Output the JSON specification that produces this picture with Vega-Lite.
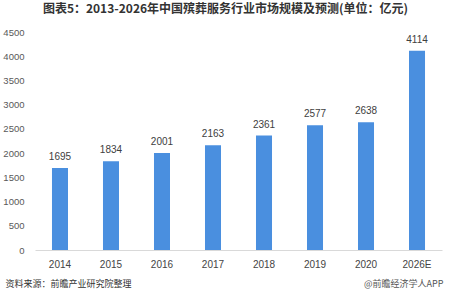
{
  "$schema": "https://vega.github.io/schema/vega-lite/v6.json",
  "width": 407,
  "height": 218,
  "autosize": {"type": "none"},
  "padding": {"left": 35, "top": 32, "right": 8, "bottom": 50},
  "background": "white",
  "title": {
    "text": "图表5：2013-2026年中国殡葬服务行业市场规模及预测(单位：亿元)",
    "font": "Noto Sans CJK SC",
    "fontSize": 12,
    "fontWeight": "bold",
    "color": "#333333",
    "anchor": "middle",
    "dx": -13,
    "offset": 11
  },
  "config": {
    "view": {"stroke": null},
    "font": "Noto Sans CJK SC"
  },
  "data": {
    "values": [
      {"year": "2014", "value": 1695},
      {"year": "2015", "value": 1834},
      {"year": "2016", "value": 2001},
      {"year": "2017", "value": 2163},
      {"year": "2018", "value": 2361},
      {"year": "2019", "value": 2577},
      {"year": "2020", "value": 2638},
      {"year": "2026E", "value": 4114}
    ]
  },
  "encoding": {
    "x": {
      "field": "year",
      "type": "nominal",
      "sort": null,
      "scale": {"paddingInner": 0.686, "paddingOuter": 0.333},
      "axis": {
        "title": "@前瞻经济学人APP",
        "titleFont": "Noto Sans CJK SC",
        "titleFontSize": 9,
        "titleFontWeight": "normal",
        "titleColor": "#555555",
        "titleAnchor": "end",
        "titleAlign": "right",
        "titleBaseline": "middle",
        "titleX": 408,
        "titleY": 33,
        "labelAngle": 0,
        "labelFont": "Liberation Sans",
        "labelFontSize": 10,
        "labelColor": "#444444",
        "labelPadding": 9,
        "ticks": false,
        "domain": true,
        "domainColor": "#d9d9d9",
        "domainWidth": 1,
        "grid": false
      }
    },
    "y": {
      "field": "value",
      "type": "quantitative",
      "scale": {"domain": [0, 4500], "nice": false},
      "axis": {
        "title": "资料来源：前瞻产业研究院整理",
        "titleFont": "Noto Sans CJK SC",
        "titleFontSize": 9,
        "titleFontWeight": "normal",
        "titleColor": "#333333",
        "titleAngle": 0,
        "titleAlign": "left",
        "titleBaseline": "middle",
        "titleX": -30,
        "titleY": 251,
        "values": [0, 500, 1000, 1500, 2000, 2500, 3000, 3500, 4000, 4500],
        "format": "d",
        "labelFont": "Liberation Sans",
        "labelFontSize": 9.5,
        "labelColor": "#595959",
        "labelPadding": 11,
        "ticks": false,
        "domain": false,
        "grid": false
      }
    }
  },
  "layer": [
    {"mark": {"type": "bar", "color": "#4a8fdf"}},
    {
      "mark": {"type": "text", "dy": -11, "font": "Liberation Sans", "fontSize": 10, "color": "#404040"},
      "encoding": {"text": {"field": "value", "type": "quantitative", "format": "d"}}
    }
  ]
}
